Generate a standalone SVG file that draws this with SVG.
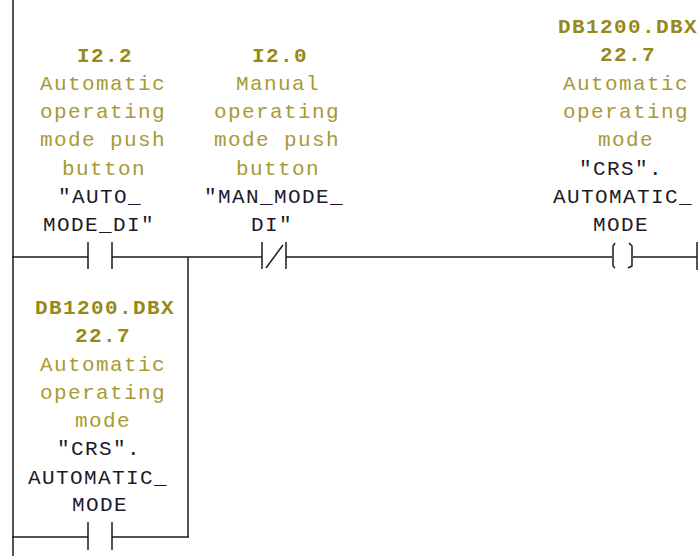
<svg xmlns="http://www.w3.org/2000/svg" width="698" height="556" viewBox="0 0 698 556">
<style>
text{font-family:"Liberation Mono","DejaVu Sans Mono",monospace;font-size:21px;letter-spacing:1.4px;text-anchor:middle}
.addr{fill:#988818;font-weight:bold}
.cmt{fill:#a89a34}
.sym{fill:#1c1a2a}
.w{stroke:#1a1a1a;stroke-width:1.5;fill:none}
</style>
<rect width="698" height="556" fill="#ffffff"/>
<g id="connectors" class="w">
<line x1="13" y1="0" x2="13" y2="556"/>
<line x1="12" y1="257" x2="88" y2="257"/>
<line x1="112" y1="257" x2="262" y2="257"/>
<line x1="286" y1="257" x2="612" y2="257"/>
<line x1="633" y1="257" x2="697" y2="257"/>
<line x1="697" y1="242" x2="697" y2="270"/>
<line x1="188" y1="257" x2="188" y2="537"/>
<line x1="12" y1="537" x2="88" y2="537"/>
<line x1="112" y1="537" x2="189" y2="537"/>
</g>
<g id="contact-auto">
<g class="w"><line x1="88" y1="242" x2="88" y2="269"/><line x1="112" y1="242" x2="112" y2="269"/></g>
<text class="addr" x="105" y="62">I2.2</text>
<text class="cmt" x="103" y="90">Automatic</text>
<text class="cmt" x="103" y="118">operating</text>
<text class="cmt" x="103" y="146">mode push</text>
<text class="cmt" x="104" y="175">button</text>
<text class="sym" x="100" y="203">"AUTO_</text>
<text class="sym" x="99" y="231">MODE_DI"</text>
</g>
<g id="contact-man">
<g class="w"><line x1="262" y1="242" x2="262" y2="269"/><line x1="286" y1="242" x2="286" y2="269"/><line x1="266" y1="268" x2="283" y2="245"/></g>
<text class="addr" x="280" y="62">I2.0</text>
<text class="cmt" x="278" y="90">Manual</text>
<text class="cmt" x="277" y="118">operating</text>
<text class="cmt" x="277" y="146">mode push</text>
<text class="cmt" x="278" y="175">button</text>
<text class="sym" x="274" y="203">"MAN_MODE_</text>
<text class="sym" x="272" y="231">DI"</text>
</g>
<g id="coil-auto">
<g class="w"><path d="M615,243 L613,246 L613,266 L615,268"/><path d="M629,243 L632,246 L632,266 L628,268"/></g>
<text class="addr" x="628" y="33">DB1200.DBX</text>
<text class="addr" x="628" y="61">22.7</text>
<text class="cmt" x="626" y="90">Automatic</text>
<text class="cmt" x="626" y="118">operating</text>
<text class="cmt" x="626" y="146">mode</text>
<text class="sym" x="621" y="175">"CRS".</text>
<text class="sym" x="623" y="203">AUTOMATIC_</text>
<text class="sym" x="621" y="231">MODE</text>
</g>
<g id="contact-selfhold">
<g class="w"><line x1="88" y1="522" x2="88" y2="550"/><line x1="112" y1="522" x2="112" y2="550"/></g>
<text class="addr" x="105" y="314">DB1200.DBX</text>
<text class="addr" x="103" y="342">22.7</text>
<text class="cmt" x="103" y="371">Automatic</text>
<text class="cmt" x="103" y="399">operating</text>
<text class="cmt" x="103" y="427">mode</text>
<text class="sym" x="99" y="455">"CRS".</text>
<text class="sym" x="98" y="484">AUTOMATIC_</text>
<text class="sym" x="100" y="511">MODE</text>
</g>
</svg>
